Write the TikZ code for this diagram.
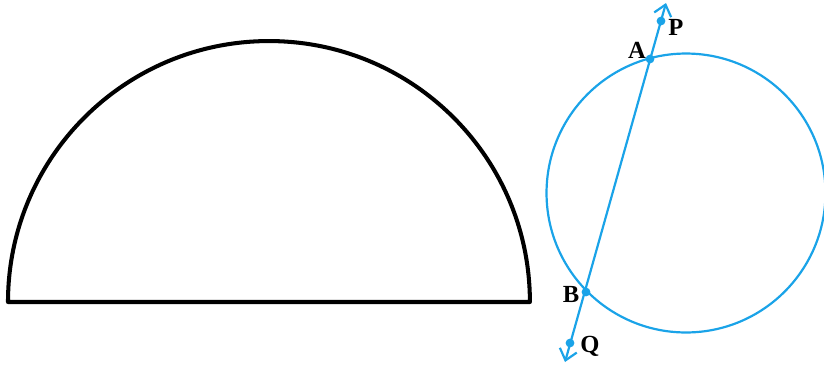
\documentclass[tikz,border=0pt]{standalone}
\usepackage{tikz}
\usepackage{fontspec}
\setmainfont{Liberation Serif}
\usetikzlibrary{arrows.meta}
\definecolor{chordblue}{HTML}{1AA3E8}
\tikzset{
  outline/.style={line width=2.3pt, black, line join=round},
  bluepath/.style={line width=1.25pt, chordblue},
  ptdot/.style={circle, fill=chordblue, inner sep=0pt, minimum size=5pt},
  ptlabel/.style={font=\fontsize{14}{16}\selectfont\bfseries, inner sep=0pt},
}

\begin{document}
\begin{tikzpicture}[x=0.02cm, y=-0.02cm]
    \useasboundingbox (0,0) rectangle (824,369);
    % semicircle
    \draw[outline] (8,302) arc (180:0:5.22cm) -- cycle;
    % circle with the secant
    \draw[bluepath] (686,193) circle (2.79cm);
    \coordinate (top) at (666,3);
    \coordinate (bot) at (565,362);
    \draw[bluepath, {Straight Barb[length=6pt, width=10pt]}-{Straight Barb[length=6pt, width=10pt]}] (bot) -- (top);
    \node[ptdot] (A) at (650,59) {};
    \node[ptdot] (B) at (586,292) {};
    \node[ptdot] (P) at (661,21) {};
    \node[ptdot] (Q) at (570,343) {};
    \node[ptlabel] (lA) at (637,50) {A};
    \node[ptlabel] (lP) at (676,27) {P};
    \node[ptlabel] (lB) at (571,294) {B};
    \node[ptlabel] (lQ) at (590,346) {Q};
  \end{tikzpicture}
\end{document}
